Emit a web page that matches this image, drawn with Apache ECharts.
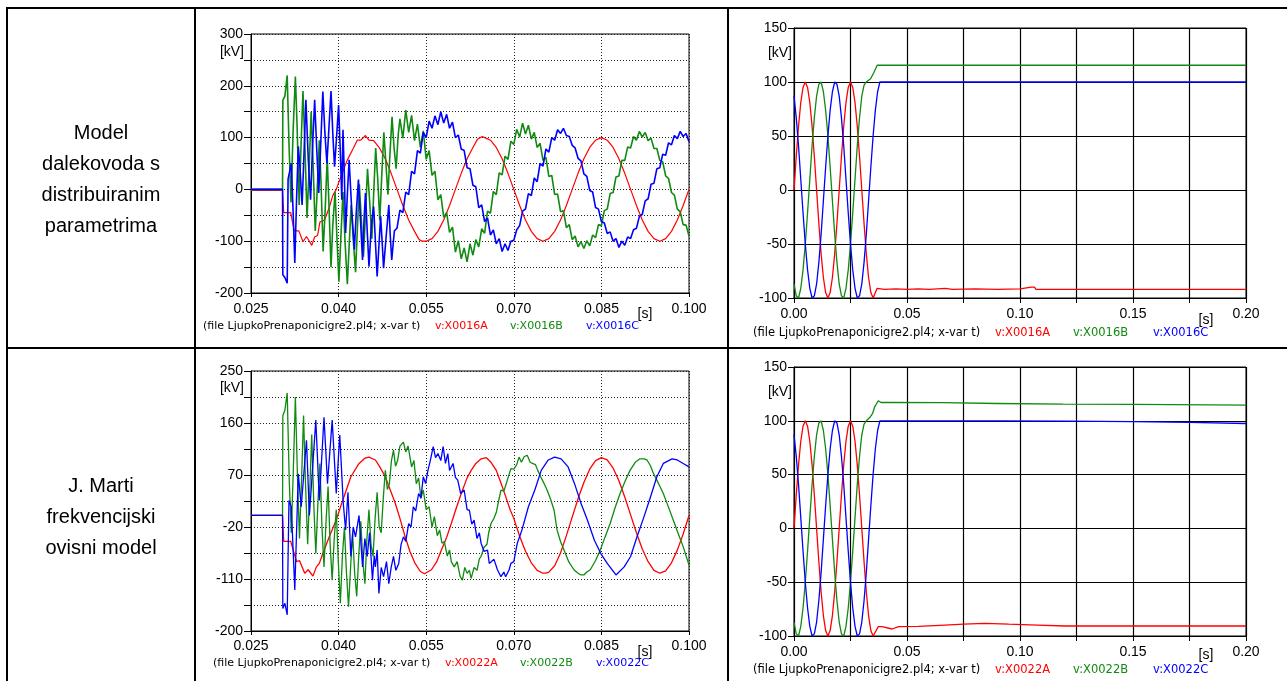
<!DOCTYPE html>
<html>
<head>
<meta charset="utf-8">
<script src="https://cdn.jsdelivr.net/npm/echarts@6/dist/echarts.min.js"></script>
<style>
html, body { margin: 0; padding: 0; background: #fff; }
#chart { width: 1287px; height: 681px; }
</style>
</head>
<body>
<div id="chart"></div>
<script>
// vrijeme u ms, napon u kV (ocitano sa slike)
var rowLabels = ['Model\ndalekovoda s\ndistribuiranim\nparametrima', 'J. Marti\nfrekvencijski\novisni model'];
var fileText = '(file LjupkoPrenaponicigre2.pl4; x-var t)';
var namesTop = ['v:X0016A', 'v:X0016B', 'v:X0016C'];
var namesBot = ['v:X0022A', 'v:X0022B', 'v:X0022C'];

// gornji lijevi - distribuirani parametri
var r1 = [[25,-2],[30.4,-2],[30.6,-45],[31.8,-45],[32.4,-80],[33.2,-80],[33.9,-101],[34.5,-91],[35.0,-100],[35.4,-108],[35.9,-92],[36.4,-89],[36.8,-63],[37.6,-59],[38.4,-35],[39.0,-12],[39.6,0],[40.5,28],[41.5,57],[42.5,79],[43.2,95],[43.8,95],[44.6,104],[45.2,95],[46.0,94],[47,80],[48,59],[49,31],[50,0],[51,-31],[52,-59],[53,-81],[53.8,-97],[54.3,-100],[55,-100],[55.6,-97],[56,-95],[57,-81],[58,-59],[59,-31],[60,0],[61,31],[62,59],[63,81],[63.8,97],[64.6,102],[65.2,99],[66,95],[67,81],[68,59],[69,31],[70,0],[71,-31],[72,-59],[73,-81],[74,-95],[75,-100],[76,-95],[77,-81],[78,-59],[79,-31],[80,0],[81,31],[82,59],[83,81],[84,95],[85,100],[86,95],[87,81],[88,59],[89,31],[90,0],[91,-31],[92,-59],[93,-81],[94,-95],[95,-100],[96,-95],[97,-81],[98,-59],[99,-31],[100,0]];
var g1 = [[25,0],[30.4,0],[30.45,172],[30.8,180],[31.2,220],[31.5,90],[31.85,-25],[32.2,110],[32.6,218],[32.9,120],[33.25,-30],[33.55,80],[33.9,190],[34.2,95],[34.6,-55],[34.95,40],[35.3,150],[35.6,60],[36.0,-80],[36.3,-10],[36.7,95],[37.0,10],[37.35,-120],[37.7,-40],[38.05,60],[38.35,-30],[38.7,-150],[39.0,-70],[39.4,-5],[39.7,-90],[40.05,-178],[40.4,-90],[40.75,-5],[41.1,-100],[41.5,-183],[41.8,-110],[42.15,-30],[42.5,-95],[42.9,-160],[43.2,-80],[43.55,10],[43.9,-60],[44.25,-130],[44.6,-50],[44.95,40],[45.3,-20],[45.7,-95],[46.0,-10],[46.35,80],[46.7,20],[47.05,-60],[47.4,30],[47.75,110],[48.1,50],[48.45,-10],[48.8,70],[49.15,140],[49.5,80],[49.85,40],[50.2,105],
  [50.5,136],[51,99],[51.5,153],[52,110],[52.5,143],[53,94],[53.5,126],[54,81],[54.5,113],[55,58],[55.5,75],[56,27],[56.5,35],[57,-20],[57.5,-10],[58,-54],[58.5,-45],[59,-83],[59.5,-73],[60,-121],[60.5,-99],[61,-134],[61.5,-113],[62,-140],[62.5,-105],[63,-127],[63.5,-97],[64,-111],[64.5,-76],[65,-85],[65.5,-42],[66,-46],[66.5,-4],[67,-10],[67.5,32],[68,28],[68.5,64],[69,58],[69.5,93],[70,87],[70.5,116],[71,101],[71.5,128],[72,107],[72.5,124],[73,97],[73.5,110],[74,81],[74.5,89],[75,56],[75.5,62],[76,25],[76.5,27],[77,-10],[77.5,-9],[78,-43],[78.5,-41],[79,-74],[79.5,-68],[80,-97],[80.5,-90],[81,-111],[81.5,-101],[82,-114],[82.5,-99],[83,-109],[83.5,-88],[84,-93],[84.5,-68],[85,-70],[85.5,-41],[86,-38],[86.5,-8],[87,-6],[87.5,24],[88,26],[88.5,56],[89,56],[89.5,82],[90,80],[90.5,102],[91,95],[91.5,112],[92,101],[92.5,110],[93,94],[93.5,99],[94,79],[94.5,79],[95,56],[95.5,53],[96,26],[96.5,21],[97,-6],[97.5,-11],[98,-38],[98.5,-43],[99,-68],[99.5,-69],[100,-90]];
var b1 = [[25,0],[30.4,0],[30.45,-165],[30.8,-170],[31.2,-181],[31.35,20],[31.9,50],[32.2,-40],[32.5,-142],[32.8,-20],[33.1,83],[33.4,40],[33.75,-30],[34.05,60],[34.4,173],[34.8,60],[35.2,-20],[35.5,70],[35.9,173],[36.25,80],[36.6,-7],[36.95,90],[37.3,189],[37.65,110],[38.0,50],[38.35,120],[38.7,190],[39.0,110],[39.3,44],[39.65,100],[40.0,163],[40.3,70],[40.55,-20],[40.75,115],[41.0,20],[41.2,-84],[41.5,-10],[41.8,57],[42.25,-40],[42.7,-116],[43.05,-40],[43.4,19],[43.75,-60],[44.1,-136],[44.35,-60],[44.6,-7],[44.9,-80],[45.2,-149],[45.6,-70],[46.0,-33],[46.3,-100],[46.6,-168],[46.9,-110],[47.2,-52],[47.45,-100],[47.7,-152],[48.15,-90],[48.6,-30],[48.85,-90],[49.1,-136],[49.55,-80],
  [50,-75],[50.5,-40],[51,-45],[51.5,-5],[52,-10],[52.5,35],[53,30],[53.5,75],[54,70],[54.5,110],[55,100],[55.5,132],[56,118],[56.5,142],[57,125],[57.5,150],[58,128],[58.5,145],[59,118],[59.5,130],[60,100],[60.5,105],[61,78],[61.5,75],[62,42],[62.5,40],[63,8],[63.5,5],[64,-35],[64.5,-30],[65,-62],[65.5,-55],[66,-88],[66.5,-78],[67,-105],[67.5,-95],[68,-120],[68.5,-105],[69,-118],[69.5,-100],[70,-98],[70.5,-78],[71,-70],[71.5,-42],[72,-38],[72.5,-8],[73,-12],[73.5,22],[74,15],[74.5,50],[75,45],[75.5,78],[76,72],[76.5,100],[77,95],[77.5,115],[78,108],[78.5,118],[79,104],[79.5,102],[80,85],[80.5,80],[81,60],[81.5,55],[82,30],[82.5,25],[83,-2],[83.5,-5],[84,-35],[84.5,-38],[85,-62],[85.5,-65],[86,-85],[86.5,-82],[87,-100],[87.5,-95],[88,-112],[88.5,-100],[89,-108],[89.5,-92],[90,-95],[90.5,-78],[91,-75],[91.5,-52],[92,-48],[92.5,-22],[93,-18],[93.5,10],[94,12],[94.5,40],[95,42],[95.5,68],[96,66],[96.5,90],[97,86],[97.5,104],[98,98],[98.5,112],[99,102],[99.5,108],[100,92]];

// gornji desni
var r2 = [[0,0],[1,31],[2,59],[3,81],[4,95],[5,100],[6,95],[7,81],[8,59],[9,31],[10,0],[11,-31],[12,-59],[13,-81],[14,-95],[15,-100],[16,-95],[17,-81],[18,-59],[19,-31],[20,0],[21,31],[22,59],[23,81],[24,95],[25,100],[26,95],[27,81],[28,59],[29,31],[30,0],[31,-31],[32,-59],[33,-81],[34,-95],[35,-100],[36.8,-91],[40,-92],[45,-91.5],[50,-92],[55,-91.5],[60,-92],[67,-91],[70,-92],[80,-91.5],[90,-92],[100,-91.5],[105,-90],[106.5,-90],[107,-92],[120,-92],[140,-92],[160,-92],[180,-92],[200,-92]];
var g2 = [[0,-87],[1,-98],[2,-100],[3,-91],[4,-74],[5,-50],[6,-21],[7,10],[8,41],[9,67],[10,87],[11,98],[12,100],[13,91],[14,74],[15,50],[16,21],[17,-10],[18,-41],[19,-67],[20,-87],[21,-98],[22,-100],[23,-91],[24,-74],[25,-50],[26,-21],[27,10],[28,41],[29,67],[30,87],[31,97],[32,100],[33.9,103],[35.4,109],[36.8,115.5],[60,115.5],[100,115.5],[150,115.5],[200,115.5]];
var b2 = [[0,87],[1,67],[2,41],[3,10],[4,-21],[5,-50],[6,-74],[7,-91],[8,-100],[9,-98],[10,-87],[11,-67],[12,-41],[13,-10],[14,21],[15,50],[16,74],[17,91],[18,100],[19,98],[20,87],[21,67],[22,41],[23,10],[24,-21],[25,-50],[26,-74],[27,-91],[28,-100],[29,-98],[30,-87],[31,-67],[32,-41],[33,-10],[34,21],[35,50],[36,74],[37,91],[38,100],[200,100]];

// donji lijevi - J. Marti
var r3 = [[25,0],[30.4,0],[30.6,-45],[31.8,-45],[32.8,-80],[33.3,-78],[34.2,-100],[34.8,-94],[35.6,-105],[36.2,-89],[36.7,-83],[37.3,-66],[38.4,-37],[39.6,-8],[40.7,26],[42.1,67],[43.5,90],[44.5,99],[45.2,101],[46.3,96],[47,85],[48,67],[49.7,21],[50.5,-5],[51.4,-37],[52.2,-62],[53.1,-83],[54,-97],[54.7,-101],[55.9,-94],[56.8,-80],[57.6,-60],[58.5,-38],[59.3,-14],[60,8],[61,38],[62,65],[62.7,78],[63.5,90],[64.4,98],[65.3,100],[66.1,92],[67,78],[67.8,56],[68.6,33],[69.4,9],[70,-5],[71,-36],[72,-62],[73,-82],[74,-95],[75,-100],[75.5,-100],[76,-98],[77,-87],[78,-65],[79,-35],[80,-3],[81,29],[82,57],[83,80],[84,95],[85,100],[86,96],[87,82],[88,60],[89,32],[90,1],[91,-30],[92,-58],[93,-80],[94,-95],[95,-100],[96,-96],[97,-82],[98,-60],[99,-32],[100,0]];
var g3 = [[25,0],[30.4,0],[30.45,173],[30.8,182],[31.2,212],[31.55,60],[31.9,-30],[32.25,80],[32.6,205],[32.95,70],[33.3,-40],[33.65,60],[34.0,173],[34.35,50],[34.7,-50],[35.05,40],[35.4,140],[35.75,20],[36.1,-66],[36.45,20],[36.8,90],[37.15,-20],[37.5,-89],[37.85,-10],[38.2,50],[38.55,-50],[38.9,-112],[39.25,-40],[39.6,10],[39.95,-80],[40.3,-152],[40.65,-70],[41.0,-20],[41.35,-100],[41.7,-158],[42.05,-90],[42.4,-30],[42.75,-100],[43.1,-140],[43.45,-70],[43.8,-10],[44.15,-80],[44.5,-118],[44.85,-40],[45.2,10],[45.55,-50],[45.9,-71],[46.25,-5],[46.6,40],[46.95,-20],[47.3,-30],[47.65,30],[48.0,78],[48.35,45],[48.7,55],[49.05,95],[49.4,113],[49.75,85],[50.1,95],[50.5,120],[51.1,127],[51.5,110],[51.9,120],[52.5,84],[52.9,95],[53.3,55],[53.7,65],[54.1,30],[54.5,44],[55,10],[55.5,15],[56,-20],[56.4,-2],[56.9,-35],[57.3,-25],[57.7,-48],[58.1,-45],[58.6,-70],[59,-60],[59.3,-80],[59.8,-89],[60.3,-80],[60.8,-105],[61.2,-112],[61.6,-90],[62,-100],[62.4,-95],[62.7,-109],[63.2,-90],[63.7,-95],[64.1,-75],[64.4,-71],[64.9,-55],[65.4,-50],[65.7,-30],[66.1,-14],[66.6,-5],[67,5],[67.4,25],[67.8,44],[68.3,42],[68.8,58],[69.5,81],[70,80],[70.5,88],[70.9,101],[71.3,92],[71.8,102],[72.3,104],[72.8,92],[73.2,90],[73.7,88],[74.1,78],[74.6,67],[75.2,55],[75.7,44],[76.3,28],[76.9,9],[77.4,-25],[78,-45],[78.6,-60],[79.4,-80],[80.3,-94],[81,-100],[81.5,-103],[82,-103],[82.5,-98],[83.1,-94],[84,-78],[84.8,-60],[85.6,-38],[86.5,-14],[87.3,12],[88.2,38],[89,58],[89.9,78],[90.8,92],[91.6,98],[92.3,98],[92.8,96],[93.4,86],[93.9,73],[94.8,55],[95.6,38],[96.5,14],[97.3,-8],[98.1,-30],[99,-54],[99.5,-70],[100,-86]];
var b3 = [[25,0],[30.4,0],[30.45,-161],[30.8,-152],[31.2,-172],[31.5,26],[31.9,15],[32.5,-129],[33.1,72],[33.6,15],[34.5,130],[35,0],[36.1,165],[36.7,26],[37.5,170],[38.1,55],[38.9,165],[39.6,38],[40.2,139],[40.8,21],[41.2,-25],[41.6,40],[42.1,-71],[42.5,-20],[42.9,-37],[43.5,0],[44.1,-89],[44.5,-40],[44.9,-71],[45.3,-30],[45.8,-112],[46.1,-70],[46.3,-89],[46.6,-60],[46.9,-135],[47.3,-90],[47.7,-106],[48.2,-80],[48.6,-118],[49,-90],[49.4,-71],[49.8,-95],[50.3,-83],[50.7,-50],[51.1,-37],[51.5,-45],[52,-14],[52.4,-20],[52.8,15],[53.2,8],[53.7,38],[54.1,30],[54.5,67],[54.9,55],[55.3,78],[55.7,95],[56.2,119],[56.6,100],[57,107],[57.5,95],[57.9,119],[58.3,90],[58.7,107],[59,78],[59.6,90],[60,66],[60.4,61],[60.9,38],[61.5,44],[62,10],[62.4,9],[62.8,-15],[63.2,-8],[63.7,-40],[64.1,-30],[64.4,-48],[64.9,-62],[65.5,-60],[65.8,-83],[66.1,-83],[66.6,-76],[67.2,-94],[67.8,-106],[68.3,-98],[68.6,-106],[69.2,-94],[69.5,-83],[70,-80],[70.6,-48],[71.4,-25],[72.5,15],[73.6,44],[74.7,78],[75.9,96],[77,101],[78.1,98],[79.3,84],[80.4,55],[81.5,21],[82.6,-8],[83.8,-43],[84.9,-66],[86,-83],[87.5,-103],[88.9,-89],[90,-71],[91.1,-37],[92.3,-2],[93.4,32],[94.5,67],[95.6,90],[97.1,98],[98,96],[99,90],[100,84]];

// donji desni
var r4 = [[0,0],[1,31],[2,59],[3,81],[4,95],[5,100],[6,95],[7,81],[8,59],[9,31],[10,0],[11,-31],[12,-59],[13,-81],[14,-95],[15,-100],[16,-95],[17,-81],[18,-59],[19,-31],[20,0],[21,31],[22,59],[23,81],[24,95],[25,100],[26,95],[27,81],[28,59],[29,31],[30,0],[31,-31],[32,-59],[33,-81],[34,-95],[35,-100],[37.3,-91.3],[39,-91.3],[43.4,-93.5],[46.3,-91.3],[55,-91],[66.8,-89.8],[75,-89],[84.4,-88.2],[95,-89],[107.7,-89.8],[120.3,-90.7],[140,-90.7],[160,-90.7],[180,-90.7],[200,-90.7]];
var g4 = [[0,-87],[1,-98],[2,-100],[3,-91],[4,-74],[5,-50],[6,-21],[7,10],[8,41],[9,67],[10,87],[11,98],[12,100],[13,91],[14,74],[15,50],[16,21],[17,-10],[18,-41],[19,-67],[20,-87],[21,-98],[22,-100],[23,-91],[24,-74],[25,-50],[26,-21],[27,10],[28,41],[29,67],[30,87],[31,97],[32,100],[33.5,103],[34.8,107],[35.7,113],[37.3,118.6],[38.5,117],[43,117],[66,116.8],[90,116.1],[119,115.5],[150,115.2],[200,114.6]];
var b4 = [[0,87],[1,67],[2,41],[3,10],[4,-21],[5,-50],[6,-74],[7,-91],[8,-100],[9,-98],[10,-87],[11,-67],[12,-41],[13,-10],[14,21],[15,50],[16,74],[17,91],[18,100],[19,98],[20,87],[21,67],[22,41],[23,10],[24,-21],[25,-50],[26,-74],[27,-91],[28,-100],[29,-98],[30,-87],[31,-67],[32,-41],[33,-10],[34,21],[35,50],[36,74],[37,91],[38,100],[90,100],[120,99.7],[150,99.3],[175,98.5],[200,97.5]];

var FONT = '"Liberation Sans", Arial, Helvetica, sans-serif';
var SMALL = '"DejaVu Sans", Verdana, sans-serif';
var RED = '#ff0000', GREEN = '#108a10', BLUE = '#0000ff';

var myChart = echarts.init(document.getElementById('chart'));

function grid(left, top, width, height) {
	return { left: left, top: top, width: width, height: height, show: true, borderColor: '#000', borderWidth: 1, backgroundColor: 'transparent', containLabel: false, outerBoundsMode: 'none' };
}
function axisBase(gi, min, max, interval, fmt, dotted, tickLen, margin) {
	return {
		gridIndex: gi, type: 'value', min: min, max: max, interval: interval,
		axisLine: { show: true, onZero: false, lineStyle: { color: '#000', width: 1 } },
		axisTick: { show: true, inside: false, length: tickLen, lineStyle: { color: '#000', width: 1 } },
		axisLabel: { color: '#000', fontSize: 14, fontFamily: FONT, margin: margin, formatter: fmt, hideOverlap: false, showMinLabel: true, showMaxLabel: true },
		splitLine: { show: true, lineStyle: dotted ? { color: '#222', width: 1, type: [1, 2] } : { color: '#000', width: 1.2 } }
	};
}
function line(i, data, color, w) {
	return { type: 'line', xAxisIndex: i, yAxisIndex: i, data: data, showSymbol: false, symbol: 'none', clip: true,
		lineStyle: { color: color, width: w }, itemStyle: { color: color }, emphasis: { disabled: true }, silent: true };
}
function txt(x, y, s, color, font, align) {
	return { type: 'text', x: x, y: y, silent: true, style: { text: s, fill: color, font: font, align: align || 'left', verticalAlign: 'middle', textAlign: align || 'left', textVerticalAlign: 'middle' } };
}
function seg(x1, y1, x2, y2) {
	return { type: 'line', silent: true, shape: { x1: x1, y1: y1, x2: x2, y2: y2 }, style: { stroke: '#000', lineWidth: 2 } };
}
// potpis ispod svakog dijagrama
function caption(x0, y, names, size, gaps) {
	var f = size + 'px ' + SMALL;
	return [txt(x0, y, fileText, '#000', f), txt(x0 + gaps[0], y, names[0], RED, f),
		txt(x0 + gaps[1], y, names[1], GREEN, f), txt(x0 + gaps[2], y, names[2], BLUE, f)];
}

var fmt3 = function (v) { return (v / 1000).toFixed(3); };
var fmt2 = function (v) { return v % 50 === 0 ? (v / 1000).toFixed(2) : ''; };
var AX = '14px ' + FONT;

var graphic = [
	seg(6, 8, 1287, 8), seg(7, 7, 7, 681), seg(195, 8, 195, 681), seg(728, 8, 728, 681), seg(6, 348, 1287, 348),
	{ type: 'text', x: 101, y: 180, silent: true, style: { text: rowLabels[0], fill: '#000', font: '20px ' + FONT, lineHeight: 31, align: 'center', verticalAlign: 'middle', textAlign: 'center', textVerticalAlign: 'middle' } },
	{ type: 'text', x: 101, y: 517, silent: true, style: { text: rowLabels[1], fill: '#000', font: '20px ' + FONT, lineHeight: 31, align: 'center', verticalAlign: 'middle', textAlign: 'center', textVerticalAlign: 'middle' } },
	txt(244, 52, '[kV]', '#000', AX, 'right'), txt(792, 53, '[kV]', '#000', AX, 'right'),
	txt(244, 388, '[kV]', '#000', AX, 'right'), txt(792, 392, '[kV]', '#000', AX, 'right'),
	txt(645, 314, '[s]', '#000', AX, 'center'), txt(1206, 320, '[s]', '#000', AX, 'center'),
	txt(645, 652, '[s]', '#000', AX, 'center'), txt(1206, 655, '[s]', '#000', AX, 'center')
].concat(
	caption(203, 326, namesTop, 11, [232, 307, 383]),
	caption(753, 333, namesTop, 11.5, [242, 320, 400]),
	caption(213, 663, namesBot, 11, [232, 307, 383]),
	caption(753, 670, namesBot, 11.5, [242, 320, 400])
);

var option = {
	animation: false,
	backgroundColor: '#fff',
	grid: [grid(251, 34, 438, 259), grid(794, 28, 452, 270), grid(251, 371, 438, 260), grid(794, 367, 452, 269)],
	xAxis: [
		axisBase(0, 25, 100, 15, fmt3, true, 4, 9),
		axisBase(1, 0, 200, 25, fmt2, false, 5, 9),
		axisBase(2, 25, 100, 15, fmt3, true, 4, 8),
		axisBase(3, 0, 200, 25, fmt2, false, 5, 9)
	],
	yAxis: [
		axisBase(0, -200, 300, 50, function (v) { return v % 100 === 0 ? String(v) : ''; }, true, 7, 8),
		axisBase(1, -100, 150, 50, function (v) { return String(v); }, false, 6, 7),
		axisBase(2, -200, 250, 45, function (v) { return (Math.round(v) + 200) % 90 === 0 ? String(Math.round(v)) : ''; }, true, 7, 8),
		axisBase(3, -100, 150, 50, function (v) { return String(v); }, false, 6, 7)
	],
	series: [
		line(0, r1, RED, 1.2), line(0, g1, GREEN, 1.6), line(0, b1, BLUE, 1.6),
		line(1, r2, RED, 1.3), line(1, g2, GREEN, 1.3), line(1, b2, BLUE, 1.3),
		line(2, r3, RED, 1.3), line(2, g3, GREEN, 1.3), line(2, b3, BLUE, 1.3),
		line(3, r4, RED, 1.3), line(3, g4, GREEN, 1.3), line(3, b4, BLUE, 1.3)
	],
	graphic: graphic
};
myChart.setOption(option);
</script>
</body>
</html>
